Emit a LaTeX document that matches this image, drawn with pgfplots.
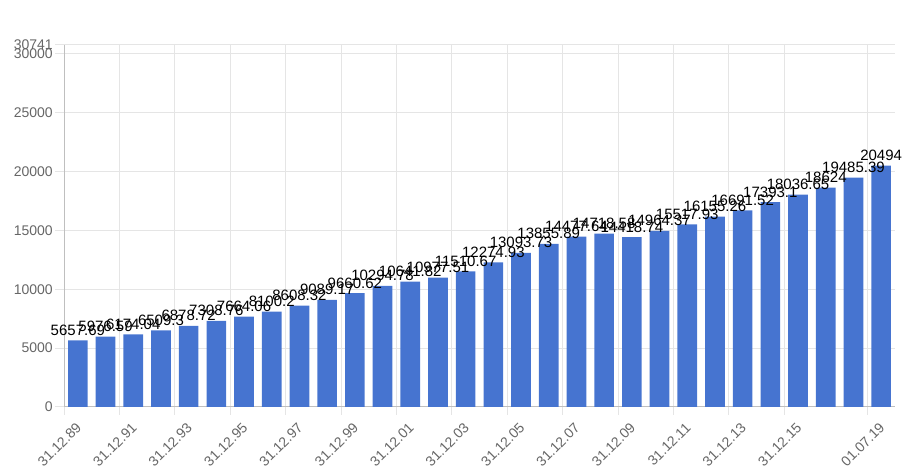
\documentclass[border=0pt]{standalone}
\usepackage{fontspec}
\setmainfont{Liberation Sans}
\usepackage{pgfplots}
\pgfplotsset{compat=1.18}
\definecolor{barblue}{RGB}{70,116,208}
\definecolor{gridgray}{RGB}{229,229,229}
\definecolor{axisgray}{RGB}{191,191,191}
\definecolor{ticktext}{RGB}{102,102,102}
\begin{document}
\begin{tikzpicture}
\useasboundingbox (0,0) rectangle (683.25pt,354.75pt);
\begin{axis}[
  at={(48pt,49.5pt)}, anchor=south west,
  scale only axis, width=623.25pt, height=271.5pt,
  xmin=-0.5, xmax=29.5, ymin=0, ymax=30741,
  scaled y ticks=false,
  axis x line*=bottom, axis y line*=left,
  axis line style={draw=axisgray, line width=0.75pt, -},
  xtick={0,2,4,6,8,10,12,14,16,18,20,22,24,26,29},
  xticklabels={31.12.89,31.12.91,31.12.93,31.12.95,31.12.97,31.12.99,31.12.01,31.12.03,31.12.05,31.12.07,31.12.09,31.12.11,31.12.13,31.12.15,01.07.19},
  minor xtick={-0.5,1.5,3.5,5.5,7.5,9.5,11.5,13.5,15.5,17.5,19.5,21.5,23.5,25.5,28.5},
  xminorgrids=true,
  ytick={0,5000,10000,15000,20000,25000,30000,30741},
  yticklabels={0,5000,10000,15000,20000,25000,30000,30741},
  ymajorgrids=true,
  grid style={draw=gridgray, line width=0.75pt},
  minor grid style={draw=gridgray, line width=0.75pt},
  tick align=outside,
  major tick length=6.75pt, minor tick length=6pt,
  every tick/.style={draw=gridgray, line width=0.75pt},
  every major x tick/.append style={draw=none},
  /pgf/number format/assume math mode=true,
  tick label style={font=\fontsize{10.5pt}{12pt}\selectfont, text=ticktext},
  xticklabel style={rotate=45, anchor=north east, inner sep=0pt, xshift=-4.4pt, yshift=-1.6pt},
  yticklabel style={anchor=east, inner sep=0pt, xshift=-1.5pt},
  ybar, bar width=0.71,
  point meta=explicit symbolic,
  nodes near coords,
  nodes near coords style={font=\fontsize{11.25pt}{13pt}\selectfont, text=black, anchor=south, inner sep=3.5pt},
  clip=false,
]
\addplot[fill=barblue, draw=none] coordinates {
(0,5657.69) [5657.69]
(1,5976.59) [5976.59]
(2,6174.04) [6174.04]
(3,6509.3) [6509.3]
(4,6878.72) [6878.72]
(5,7308.76) [7308.76]
(6,7664.06) [7664.06]
(7,8100.2) [8100.2]
(8,8608.32) [8608.32]
(9,9089.17) [9089.17]
(10,9660.62) [9660.62]
(11,10294.78) [10294.78]
(12,10641.82) [10641.82]
(13,10977.51) [10977.51]
(14,11510.67) [11510.67]
(15,12274.93) [12274.93]
(16,13093.73) [13093.73]
(17,13855.89) [13855.89]
(18,14477.64) [14477.64]
(19,14718.58) [14718.58]
(20,14418.74) [14418.74]
(21,14964.37) [14964.37]
(22,15517.93) [15517.93]
(23,16155.26) [16155.26]
(24,16691.52) [16691.52]
(25,17393.1) [17393.1]
(26,18036.65) [18036.65]
(27,18624) [18624]
(28,19485.39) [19485.39]
(29,20494) [20494]
};
\end{axis}
\end{tikzpicture}
\end{document}
